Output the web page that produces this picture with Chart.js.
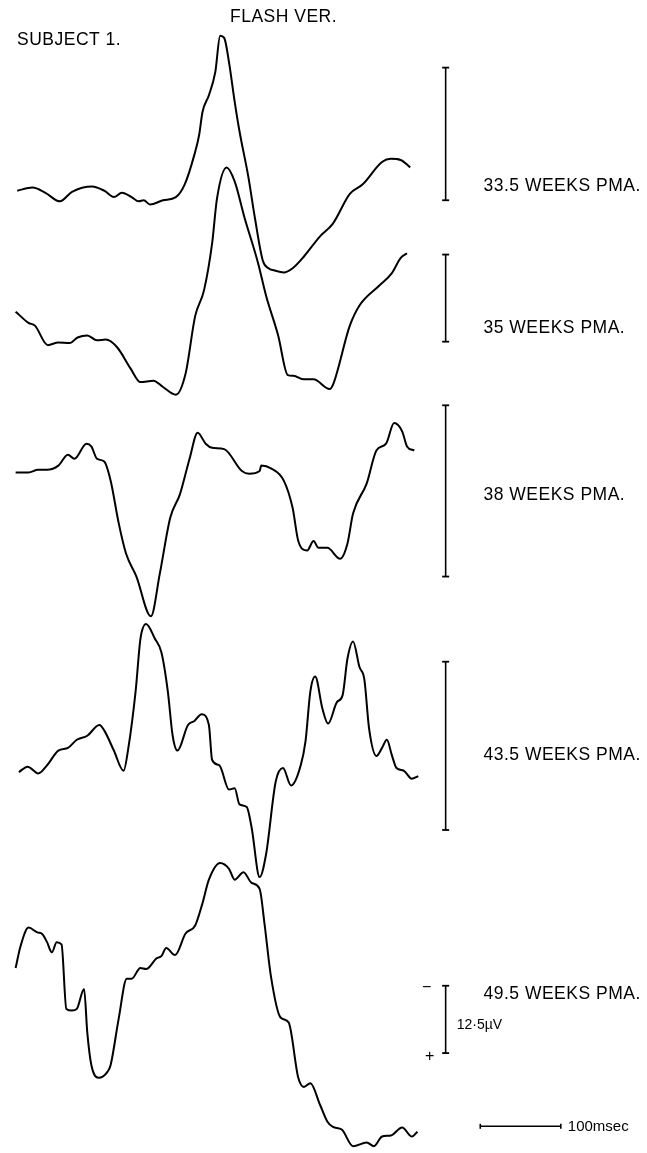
<!DOCTYPE html>
<html>
<head>
<meta charset="utf-8">
<script src="https://cdn.jsdelivr.net/npm/chart.js@4"></script>
<style>
  html, body { margin: 0; padding: 0; background: #fff; }
  #wrap { position: relative; width: 647px; height: 1153px; }
</style>
</head>
<body>
<div id="wrap"><canvas id="c"></canvas></div>
<script>
// ---------- DATA (time in msec after flash, amplitude in µV, negative up) ----------
const traceLabels = ["33.5 WEEKS PMA.", "35 WEEKS PMA.", "38 WEEKS PMA.", "43.5 WEEKS PMA.", "49.5 WEEKS PMA."];

const trace335 = [[2,-0.3],[21,-0.6],[37,-0.1],[55,0.7],[70,-0.2],[95,-0.7],[110,-0.3],[122,0.3],[132,-0.1],[144,0.3],[153,0.7],[159,0.6],[167,1.0],[183,0.6],[199,0.3],[210,-0.9],[222,-3.7],[228,-5.6],[232,-7.7],[240,-9.3],[248,-11.5],[254,-14.9],[259,-14.7],[265,-12.4],[272,-8.7],[278,-5.9],[289,-1.6],[297,2.2],[307,6.3],[314,7.0],[321,7.2],[333,7.4],[344,7.0],[358,5.9],[378,4.0],[394,2.8],[415,0],[431,-0.9],[455,-3.0],[466,-3.3],[478,-3.2],[490,-2.5]];

const trace35 = [[0,-4.4],[16,-2.8],[24,-2.4],[40,0.4],[53,0],[67,0.1],[77,-0.7],[89,-1.0],[101,-0.3],[112,-0.4],[126,0.7],[143,3.8],[155,5.7],[171,5.5],[183,6.4],[199,7.5],[211,4.5],[223,-3.8],[234,-7.5],[244,-14.2],[250,-20.6],[262,-25.1],[272,-23.1],[284,-18.0],[301,-11.4],[311,-6.7],[326,-1.0],[338,4.7],[345,4.8],[358,5.3],[370,5.3],[390,6.7],[394,6.1],[415,-2.4],[427,-5.3],[451,-8.1],[467,-9.9],[478,-12.1],[486,-12.8]];

const trace38 = [[0,0.1],[16,0.1],[28,-0.1],[39,-0.1],[53,-0.4],[65,-1.2],[73,-0.9],[88,-2.0],[94,-1.8],[101,-0.9],[110,-0.7],[118,0.7],[128,3.8],[137,6.0],[150,7.7],[168,10.6],[179,7.5],[192,3.4],[204,1.7],[216,-0.9],[226,-2.8],[236,-2.0],[244,-1.7],[259,-1.6],[281,0],[290,0.2],[303,0],[305,-0.4],[317,-0.2],[333,0.7],[344,2.7],[351,5.1],[362,5.8],[370,5.1],[376,5.6],[387,5.6],[403,6.4],[412,5.3],[419,3.1],[436,0.9],[448,-1.5],[460,-2.0],[470,-3.5],[480,-2.9],[486,-1.8],[495,-1.5]];

const trace435 = [[4,0.3],[15,-0.1],[28,0.4],[39,-0.2],[53,-1.3],[65,-1.5],[76,-2.1],[89,-2.4],[104,-3.2],[110,-2.8],[122,-1.3],[134,0.2],[140,-1.5],[149,-5.7],[155,-9.6],[162,-10.7],[173,-9.6],[181,-8.6],[189,-5.7],[195,-2.4],[201,-1.3],[214,-3.2],[222,-3.5],[231,-4.0],[240,-3.2],[244,-0.6],[253,-0.2],[265,1.6],[272,1.5],[278,2.7],[287,2.9],[293,4.4],[303,8.1],[311,6.4],[323,1.0],[332,0],[342,1.3],[354,-0.2],[360,-2.0],[366,-5.7],[372,-6.8],[381,-4.4],[388,-3.3],[399,-4.9],[406,-5.4],[412,-8.1],[419,-9.4],[427,-7.5],[433,-6.6],[439,-2.9],[448,-0.9],[455,-1.5],[461,-2.1],[467,-1.0],[473,0],[482,0.2],[492,0.8],[500,0.6]];

const trace495 = [[0,2.2],[6,-1.8],[16,-5.3],[27,-4.4],[33,-4.1],[39,-2.6],[45,-0.7],[51,-2.6],[57,-2.2],[63,9.8],[70,10.1],[76,9.8],[85,6.1],[89,14.2],[94,20.2],[103,22.6],[114,21.5],[118,20.2],[128,11.6],[138,4.2],[144,4.2],[155,2.2],[162,2.4],[175,0.4],[181,0],[187,-1.5],[198,-0.2],[211,-4.2],[223,-5.7],[232,-9.8],[240,-14.2],[254,-17.3],[265,-16.2],[272,-14.2],[283,-15.6],[293,-13.6],[303,-12.5],[309,-6.1],[317,3.7],[329,11.4],[339,12.3],[351,22.6],[358,24.3],[366,23.6],[378,27.6],[387,30.7],[394,31.7],[405,32.2],[419,35.3],[436,34.6],[445,35.3],[455,33.5],[466,33.3],[480,31.8],[492,33.5],[499,32.6]];

const traces = [trace335, trace35, trace38, trace435, trace495];

// calibration: 12.5 µV vertical bars (start value, µV) and 100 msec time bar
const calAmplitude = 12.5;
const calBarStart = [-11.9, -12.6, -4.8, -7.9, 5.5];
const calBarTime = 534;
const timeBar = [577, 677];
const timeBarLevel = 31.6;
const labelTime = 581;
const labelLevel = [-0.3, -1.4, 2.1, -0.6, 7.9];

// ---------- LAYOUT ----------
const W = 647, H = 1153;
const xLayout = { zeroPx: 10, pxPerMs: 0.82 };
const traceLayout = [
  { zeroPx: 190, calPx: 134 },
  { zeroPx: 340, calPx: 88 },
  { zeroPx: 470, calPx: 173 },
  { zeroPx: 770, calPx: 170 },
  { zeroPx: 960, calPx: 68 }
];
const FONT = '"Liberation Sans", Arial, Helvetica, sans-serif';

const scales = {
  x: { type: 'linear', display: false,
       min: -xLayout.zeroPx / xLayout.pxPerMs,
       max: (W - xLayout.zeroPx) / xLayout.pxPerMs }
};
traceLayout.forEach((L, i) => {
  const g = L.calPx / calAmplitude;
  scales['y' + i] = { type: 'linear', display: false, reverse: true,
                      min: -L.zeroPx / g, max: (H - L.zeroPx) / g };
});

const datasets = [];
traces.forEach((tr, i) => {
  datasets.push({
    data: tr.map(p => ({ x: p[0], y: p[1] })),
    yAxisID: 'y' + i,
    borderColor: '#000', borderWidth: 2,
    pointRadius: 0, fill: false,
    cubicInterpolationMode: 'monotone',
    clip: false
  });
  datasets.push({
    data: [{ x: calBarTime, y: calBarStart[i] }, { x: calBarTime, y: calBarStart[i] + calAmplitude }],
    yAxisID: 'y' + i,
    borderColor: '#000', borderWidth: 1.6,
    pointStyle: 'line', pointRadius: 3.5, pointBorderWidth: 1.8,
    pointBorderColor: '#000', pointRotation: 0, tension: 0, clip: false
  });
});
datasets.push({
  data: [{ x: timeBar[0], y: timeBarLevel }, { x: timeBar[1], y: timeBarLevel }],
  yAxisID: 'y4',
  borderColor: '#000', borderWidth: 1.6,
  pointStyle: 'line', pointRadius: 2.5, pointBorderWidth: 1.6,
  pointBorderColor: '#000', pointRotation: 90, tension: 0, clip: false
});

const textPlugin = {
  id: 'texts',
  afterDatasetsDraw(chart) {
    const ctx = chart.ctx;
    const x = chart.scales.x;
    ctx.save();
    ctx.fillStyle = '#000';
    ctx.textBaseline = 'alphabetic';
    ctx.textAlign = 'left';
    ctx.font = '17.5px ' + FONT;
    try { ctx.letterSpacing = '0.5px'; } catch (e) {}
    ctx.fillText('SUBJECT 1.', 17, 45);
    ctx.fillText('FLASH VER.', 230, 22);
    traceLabels.forEach((lab, i) => {
      const y = chart.scales['y' + i].getPixelForValue(labelLevel[i]);
      ctx.fillText(lab, x.getPixelForValue(labelTime), y);
    });
    try { ctx.letterSpacing = '0px'; } catch (e) {}
    // polarity and calibration text near the last bar
    const y4 = chart.scales.y4;
    const barX = x.getPixelForValue(calBarTime);
    ctx.font = '16px ' + FONT;
    ctx.textAlign = 'center';
    ctx.fillText('\u2212', barX - 19, y4.getPixelForValue(calBarStart[4]) + 6);
    ctx.fillText('+', barX - 16, y4.getPixelForValue(calBarStart[4] + calAmplitude) + 8);
    ctx.textAlign = 'left';
    ctx.font = '14px ' + FONT;
    ctx.fillText('12\u00b75\u00b5V', barX + 11, y4.getPixelForValue(calBarStart[4] + calAmplitude / 2) + 10);
    ctx.font = '15px ' + FONT;
    ctx.fillText('100msec', x.getPixelForValue(timeBar[1]) + 7, y4.getPixelForValue(timeBarLevel) + 5);
    ctx.restore();
  }
};

new Chart(document.getElementById('c'), {
  type: 'line',
  data: { datasets },
  options: {
    responsive: true,
    maintainAspectRatio: false,
    animation: false,
    events: [],
    layout: { padding: 0 },
    scales,
    plugins: { legend: { display: false }, tooltip: { enabled: false }, title: { display: false } }
  },
  plugins: [textPlugin]
});
</script>
</body>
</html>
